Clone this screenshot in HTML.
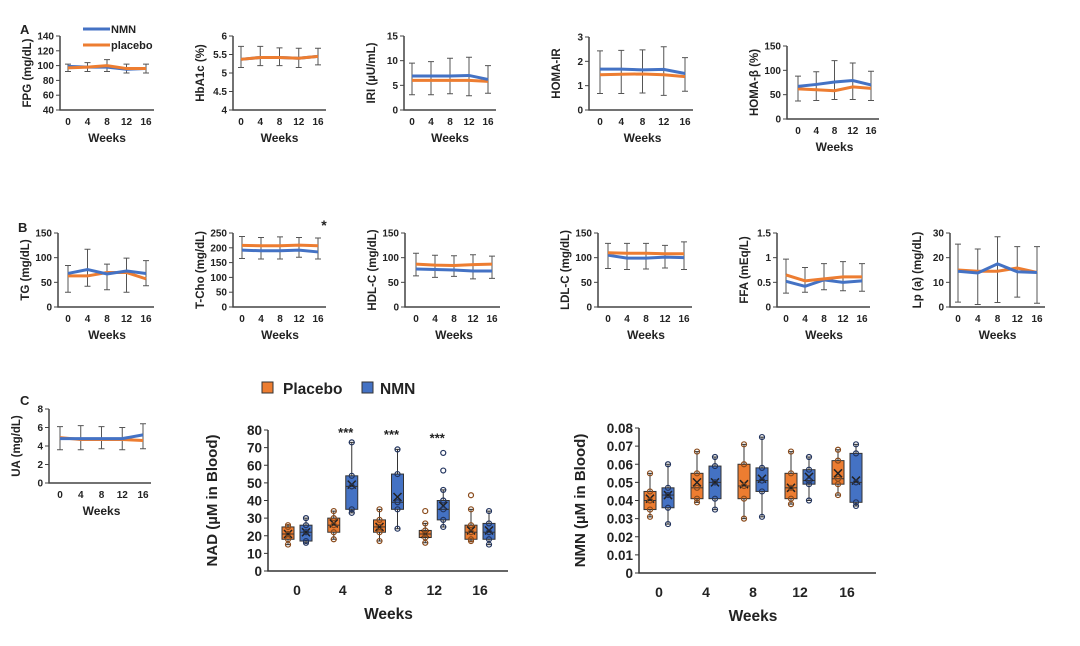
<!DOCTYPE html>
<html><head><meta charset="utf-8">
<style>
body{margin:0;background:#fff;width:1080px;height:641px;overflow:hidden;font-family:"Liberation Sans",Arial,sans-serif}
svg text{font-family:"Liberation Sans",Arial,sans-serif;font-weight:bold;fill:#222}
</style></head><body>
<svg id="fig" width="1080" height="641" viewBox="0 0 1080 641" xmlns="http://www.w3.org/2000/svg"></svg>
<script>
const weeks = ["0","4","8","12","16"];
// Line chart data (means and error bar bounds)
const fpgNMN=[99,98,98,95,96], fpgPLC=[97,98,100,96,96], fpgHi=[102,104,108,102,102], fpgLo=[92,92,92,90,90];
const hbaNMN=[5.37,5.42,5.42,5.4,5.45], hbaPLC=[5.37,5.42,5.42,5.4,5.45], hbaHi=[5.72,5.72,5.68,5.67,5.67], hbaLo=[5.15,5.2,5.2,5.15,5.22];
const iriNMN=[6.9,6.9,6.9,7,6.2], iriPLC=[6,6,6,6,5.8], iriHi=[9.5,9.8,10.5,10.7,9], iriLo=[3.1,3.1,3.3,2.9,3.4];
const hirNMN=[1.68,1.68,1.65,1.67,1.5], hirPLC=[1.45,1.47,1.48,1.45,1.37], hirHi=[2.43,2.45,2.47,2.6,2.15], hirLo=[0.68,0.68,0.7,0.6,0.77];
const hbNMN=[67,71,76,79,70], hbPLC=[62,60,58,66,63], hbHi=[88,97,120,115,98], hbLo=[37,38,40,40,38];
const tgNMN=[68,76,67,73,68], tgPLC=[63,63,70,70,57], tgHi=[84,117,87,99,94], tgLo=[30,42,35,30,43];
const tcNMN=[192,190,190,192,186], tcPLC=[208,207,207,209,207], tcHi=[238,235,237,235,233], tcLo=[164,162,162,168,162];
const hdlNMN=[77,76,75,73,73], hdlPLC=[87,85,84,86,87], hdlHi=[109,105,104,106,103], hdlLo=[63,60,62,57,58];
const ldlNMN=[105,99,99,101,100], ldlPLC=[110,109,109,108,108], ldlHi=[129,129,129,125,132], ldlLo=[78,76,77,79,76];
const ffaNMN=[0.52,0.42,0.55,0.5,0.53], ffaPLC=[0.65,0.53,0.57,0.61,0.61], ffaHi=[0.97,0.8,0.88,0.92,0.88], ffaLo=[0.28,0.3,0.35,0.33,0.32];
const lpaNMN=[14.5,13.8,17.5,14.3,14], lpaPLC=[15,14.5,14.5,15.8,14], lpaHi=[25.5,23.5,28.5,24.5,24.5], lpaLo=[2,1,1.8,4,1.5];
const uaNMN=[4.8,4.8,4.8,4.8,5.2], uaPLC=[4.9,4.7,4.7,4.7,4.6], uaHi=[6.1,6.2,6.1,6,6.4], uaLo=[3.6,3.6,3.7,3.6,3.7];
// Box plot data: NAD
const nadPlcQ1=[18,22,22,19,18], nadPlcQ3=[25,30,29,23,26], nadPlcMed=[21,26,25,21,22], nadPlcMin=[15,18,17,16,17], nadPlcMax=[26,34,35,27,35], nadPlcMean=[21,27,25,21,23];
const nadNmnQ1=[17,35,35,29,18], nadNmnQ3=[26,54,55,40,27], nadNmnMed=[22,48,39,35,22], nadNmnMin=[16,33,24,25,15], nadNmnMax=[30,73,69,46,34], nadNmnMean=[22,49,42,37,23];
const nadPlcOut=[[],[],[],[34],[43]], nadNmnOut=[[],[],[],[57,67],[]];
const nadStars=["","***","***","***",""];
// Box plot data: NMN
const nmnPlcQ1=[0.035,0.041,0.041,0.041,0.049], nmnPlcQ3=[0.045,0.055,0.06,0.055,0.062], nmnPlcMed=[0.04,0.047,0.048,0.047,0.052], nmnPlcMin=[0.031,0.039,0.03,0.038,0.043], nmnPlcMax=[0.055,0.067,0.071,0.067,0.068], nmnPlcMean=[0.041,0.05,0.049,0.047,0.055];
const nmnNmnQ1=[0.036,0.041,0.045,0.049,0.039], nmnNmnQ3=[0.047,0.059,0.058,0.057,0.066], nmnNmnMed=[0.043,0.05,0.051,0.051,0.05], nmnNmnMin=[0.027,0.035,0.031,0.04,0.037], nmnNmnMax=[0.06,0.064,0.075,0.064,0.071], nmnNmnMean=[0.043,0.05,0.052,0.053,0.051];

const NS="http://www.w3.org/2000/svg";
const svg=document.getElementById('fig');
function el(tag,attrs,parent,txt){const e=document.createElementNS(NS,tag);for(const k in attrs)e.setAttribute(k,attrs[k]);if(txt!==undefined)e.textContent=txt;(parent||svg).appendChild(e);return e;}
const BLUE="#4472c4", ORANGE="#ed7d31";

function lineChart(o){
  const g=el('g',{});
  
  
  const y=v=>o.y1+(o.max-v)/(o.max-o.min)*(o.y0-o.y1);
  const x=i=>o.x0+i*(o.x16-o.x0)/4;
  const ax=el('path',{d:`M${o.ax},${o.y1} V${o.y0} H${o.x16+8}`,stroke:'#444','stroke-width':1.5,fill:'none'},g);
  
  o.ticks.forEach(t=>{const yy=y(t);el('line',{x1:o.ax-4,x2:o.ax,y1:yy,y2:yy,stroke:'#444'},g);
    const tl=el('text',{x:o.ax-6,y:yy+3.5,'text-anchor':'end','font-size':10},g,t);});
  weeks.forEach((w,i)=>{const tl=el('text',{x:x(i),y:o.y0+15,'text-anchor':'middle','font-size':10},g,w);});
  const xt=el('text',{x:(o.x0+o.x16)/2,y:o.y0+32,'text-anchor':'middle','font-size':12},g,'Weeks');
  
  const yt=el('text',{transform:`translate(${o.ax-29},${(o.y0+o.y1)/2}) rotate(-90)`,'text-anchor':'middle','font-size':11.5},g,o.label);
  
  o.hi.forEach((h,i)=>{const xx=x(i);const eb=el('path',{d:`M${xx},${y(o.lo[i])} V${y(h)} M${xx-3},${y(h)} H${xx+3} M${xx-3},${y(o.lo[i])} H${xx+3}`,stroke:'#555','stroke-width':1,fill:'none'},g);
    });
  const pl=el('polyline',{points:o.plc.map((v,i)=>x(i)+','+y(v)).join(' '),stroke:ORANGE,'stroke-width':3,fill:'none'},g);
  
  const nl=el('polyline',{points:o.nmn.map((v,i)=>x(i)+','+y(v)).join(' '),stroke:BLUE,'stroke-width':3,fill:'none'},g);
  
  if(o.order==='plcTop'){g.appendChild(pl);}
}
const A0=110,A1=36;
lineChart({name:'fpg',label:'FPG (mg/dL)',ax:60,x0:68,x16:146,y0:A0,y1:A1,min:40,max:140,ticks:[40,60,80,100,120,140],nmn:fpgNMN,plc:fpgPLC,hi:fpgHi,lo:fpgLo,order:'plcTop'});
lineChart({name:'hba1c',label:'HbA1c (%)',ax:233,x0:241,x16:318,y0:A0,y1:A1,min:4,max:6,ticks:[4,4.5,5,5.5,6],nmn:hbaNMN,plc:hbaPLC,hi:hbaHi,lo:hbaLo,order:'plcTop'});
lineChart({name:'iri',label:'IRI (µU/mL)',ax:404,x0:412,x16:488,y0:A0,y1:A1,min:0,max:15,ticks:[0,5,10,15],nmn:iriNMN,plc:iriPLC,hi:iriHi,lo:iriLo});
lineChart({name:'homa-ir',label:'HOMA-IR',ax:589,x0:600,x16:685,y0:A0,y1:37,min:0,max:3,ticks:[0,1,2,3],nmn:hirNMN,plc:hirPLC,hi:hirHi,lo:hirLo});
lineChart({name:'homa-b',label:'HOMA-β (%)',ax:787,x0:798,x16:871,y0:119,y1:46,min:0,max:150,ticks:[0,50,100,150],nmn:hbNMN,plc:hbPLC,hi:hbHi,lo:hbLo});
const B0=307,B1=233;
lineChart({name:'tg',label:'TG (mg/dL)',ax:58,x0:68,x16:146,y0:B0,y1:B1,min:0,max:150,ticks:[0,50,100,150],nmn:tgNMN,plc:tgPLC,hi:tgHi,lo:tgLo});
lineChart({name:'t-cho',label:'T-Cho (mg/dL)',ax:233,x0:242,x16:318,y0:B0,y1:B1,min:0,max:250,ticks:[0,50,100,150,200,250],nmn:tcNMN,plc:tcPLC,hi:tcHi,lo:tcLo});
lineChart({name:'hdl',label:'HDL-C (mg/dL)',ax:405,x0:416,x16:492,y0:B0,y1:B1,min:0,max:150,ticks:[0,50,100,150],nmn:hdlNMN,plc:hdlPLC,hi:hdlHi,lo:hdlLo,order:'plcTop'});
lineChart({name:'ldl',label:'LDL-C (mg/dL)',ax:598,x0:608,x16:684,y0:B0,y1:B1,min:0,max:150,ticks:[0,50,100,150],nmn:ldlNMN,plc:ldlPLC,hi:ldlHi,lo:ldlLo,order:'plcTop'});
lineChart({name:'ffa',label:'FFA (mEq/L)',ax:777,x0:786,x16:862,y0:B0,y1:B1,min:0,max:1.5,ticks:[0,0.5,1,1.5],nmn:ffaNMN,plc:ffaPLC,hi:ffaHi,lo:ffaLo,order:'plcTop'});
lineChart({name:'lpa',label:'Lp (a) (mg/dL)',ax:950,x0:958,x16:1037,y0:B0,y1:B1,min:0,max:30,ticks:[0,10,20,30],nmn:lpaNMN,plc:lpaPLC,hi:lpaHi,lo:lpaLo});
lineChart({name:'ua',label:'UA (mg/dL)',ax:49,x0:60,x16:143,y0:483,y1:409,min:0,max:8,ticks:[0,2,4,6,8],nmn:uaNMN,plc:uaPLC,hi:uaHi,lo:uaLo});

// panel letters, legend, star
[['A',20,34],['B',18,232],['C',20,405]].forEach(p=>{const t=el('text',{x:p[1],y:p[2],'font-size':13,fill:'#000'},svg,p[0]);});
const lg=el('g',{});
el('line',{x1:83,x2:110,y1:29,y2:29,stroke:BLUE,'stroke-width':3},lg);el('text',{x:111,y:33,'font-size':11},lg,'NMN');
el('line',{x1:83,x2:110,y1:45,y2:45,stroke:ORANGE,'stroke-width':3},lg);el('text',{x:111,y:49,'font-size':11},lg,'placebo');
const st=el('text',{x:324,y:230,'text-anchor':'middle','font-size':14},svg,'*');

function boxChart(o){
  const g=el('g',{});
  
  
  const y=v=>o.y0-(v-o.min)/(o.max-o.min)*(o.y0-o.y1);
  const cx=i=>o.c0+i*(o.c4-o.c0)/4;
  el('path',{d:`M${o.ax},${o.y1} V${o.y0} H${o.xend}`,stroke:'#333','stroke-width':1.5,fill:'none'},g);
  o.ticks.forEach((t,k)=>{const yy=y(t);el('line',{x1:o.ax-4,x2:o.ax,y1:yy,y2:yy,stroke:'#333'},g);
    const tl=el('text',{x:o.ax-6,y:yy+5,'text-anchor':'end','font-size':13.5},g,o.tickLabels[k]);});
  weeks.forEach((w,i)=>{const tl=el('text',{x:cx(i),y:o.y0+24,'text-anchor':'middle','font-size':14},g,w);});
  const xt=el('text',{x:(o.c0+o.c4)/2,y:o.y0+48,'text-anchor':'middle','font-size':15.5},g,'Weeks');
  const yt=el('text',{transform:`translate(${o.ylx},${(o.y0+o.y1)/2}) rotate(-90)`,'text-anchor':'middle','font-size':15},g,o.label);
  o.series.forEach(s=>{
    s.q1.forEach((q,i)=>{
      const c=cx(i)+s.off, w=12;
      const bg=el('g',{},g);
      
      
      el('path',{d:`M${c},${y(s.min[i])} V${y(q)} M${c},${y(s.q3[i])} V${y(s.max[i])} M${c-3},${y(s.max[i])} H${c+3} M${c-3},${y(s.min[i])} H${c+3}`,stroke:'#333','stroke-width':1,fill:'none'},bg);
      el('rect',{x:c-w/2,y:y(s.q3[i]),width:w,height:y(q)-y(s.q3[i]),fill:s.color,stroke:'#333','stroke-width':1},bg);
      el('line',{x1:c-w/2,x2:c+w/2,y1:y(s.med[i]),y2:y(s.med[i]),stroke:'#333'},bg);
      const m=y(s.mean[i]);
      el('path',{d:`M${c-4},${m-4} L${c+4},${m+4} M${c+4},${m-4} L${c-4},${m+4}`,stroke:'#222','stroke-width':1.5},bg);
      [s.min[i],s.q1[i],s.med[i],s.q3[i],s.max[i]].concat(s.out?s.out[i]:[]).forEach(v=>{
        el('circle',{cx:c,cy:y(v),r:2.5,fill:'none',stroke:s.dot,'stroke-width':1.2},bg);});
    });
  });
  if(o.stars)o.stars.forEach((s,i)=>{if(s){const t=el('text',{x:cx(i)+3,y:y(o.starY[i]),'text-anchor':'middle','font-size':13,'font-weight':'normal'},g,s);}});
}
boxChart({name:'nad',label:'NAD (µM in Blood)',ax:268,xend:508,y0:571,y1:430,min:0,max:80,ticks:[0,10,20,30,40,50,60,70,80],tickLabels:["0","10","20","30","40","50","60","70","80"],c0:297,c4:480,ylx:217,
  stars:nadStars,starY:[0,76,75,73,0],
  series:[{name:'placebo',color:ORANGE,dot:'#8a4a1a',off:-9,q1:nadPlcQ1,q3:nadPlcQ3,med:nadPlcMed,min:nadPlcMin,max:nadPlcMax,mean:nadPlcMean,out:nadPlcOut},
          {name:'nmn',color:BLUE,dot:'#22345e',off:9,q1:nadNmnQ1,q3:nadNmnQ3,med:nadNmnMed,min:nadNmnMin,max:nadNmnMax,mean:nadNmnMean,out:nadNmnOut}]});
boxChart({name:'nmn-level',label:'NMN (µM in Blood)',ax:639,xend:876,y0:573,y1:428,min:0,max:0.08,ticks:[0,0.01,0.02,0.03,0.04,0.05,0.06,0.07,0.08],tickLabels:["0","0.01","0.02","0.03","0.04","0.05","0.06","0.07","0.08"],c0:659,c4:847,ylx:585,
  series:[{name:'placebo',color:ORANGE,dot:'#8a4a1a',off:-9,q1:nmnPlcQ1,q3:nmnPlcQ3,med:nmnPlcMed,min:nmnPlcMin,max:nmnPlcMax,mean:nmnPlcMean},
          {name:'nmn',color:BLUE,dot:'#22345e',off:9,q1:nmnNmnQ1,q3:nmnNmnQ3,med:nmnNmnMed,min:nmnNmnMin,max:nmnNmnMax,mean:nmnNmnMean}]});
const bl=el('g',{});
el('rect',{x:262,y:382,width:11,height:11,fill:ORANGE,stroke:'#333'},bl);el('text',{x:283,y:394,'font-size':15.5},bl,'Placebo');
el('rect',{x:362,y:382,width:11,height:11,fill:BLUE,stroke:'#333'},bl);el('text',{x:380,y:394,'font-size':15.5},bl,'NMN');
</script>
</body></html>
